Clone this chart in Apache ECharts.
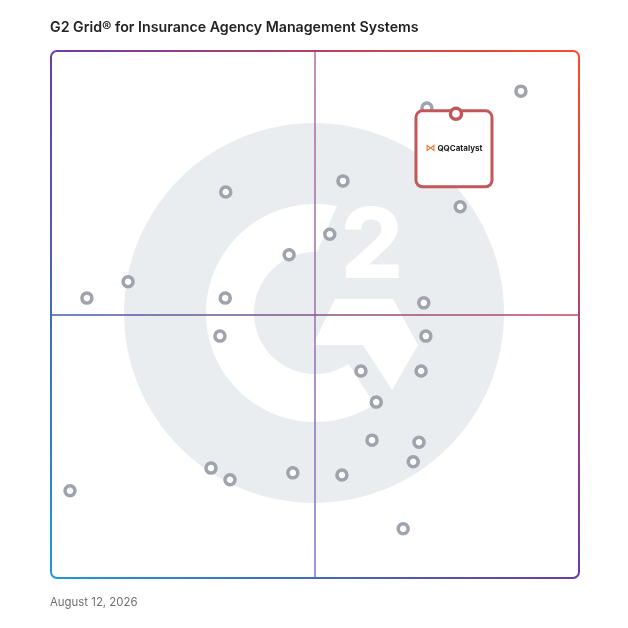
<!DOCTYPE html>
<html>
<head>
<meta charset="utf-8">
<script src="https://cdn.jsdelivr.net/npm/echarts@6/dist/echarts.min.js"></script>
<style>html,body{margin:0;padding:0;background:#fff}#c{width:628px;height:628px}</style>
</head>
<body>
<div id="c"></div>
<script>
const chartTitle = 'G2 Grid® for Insurance Agency Management Systems';
const dateLabel = 'August 12, 2026';
// Satisfaction (x) and Market Presence (y), 0-100 scale
const satisfaction = [33.1,45.1,14.6,6.8,33.0,89.0,71.2,55.3,77.5,52.8,70.6,32.0,30.3,33.9,45.8,3.6,71.0,58.7,70.1,61.6,60.8,69.7,68.6,55.1,66.7];
const marketPresence = [73.3,61.4,56.3,53.2,53.2,92.4,89.2,75.4,70.5,65.3,52.3,46.0,21.0,18.8,20.1,16.7,46.0,39.4,39.4,33.5,26.3,25.9,22.2,19.7,9.5];
const featuredName = ['QQCatalyst'];
const featuredX = [76.7];
const featuredY = [88.1];

const others = satisfaction.map((x, i) => [x, marketPresence[i]]);
const featured = featuredX.map((x, i) => [x, featuredY[i], featuredName[i]]);

const chart = echarts.init(document.getElementById('c'));
const grad = (x, y, x2, y2, stops) => ({type: 'linear', x, y, x2, y2, colorStops: stops.map((c, i) => ({offset: i / (stops.length - 1), color: c}))});

// decorative G2 watermark: G-shaped ring
function arcPts(cx, cy, r, a0, a1, n) {
  const pts = [];
  for (let i = 0; i <= n; i++) {
    const a = (a0 + (a1 - a0) * i / n) * Math.PI / 180;
    pts.push([cx + r * Math.cos(a), cy + r * Math.sin(a)]);
  }
  return pts;
}
const gShape = arcPts(315, 313, 109, -78.4, -303.1, 90).concat(arcPts(315, 313, 61, -303.3, -88.1, 90));

chart.setOption({
  animation: false,
  title: [
    {text: chartTitle, left: 50, top: 21, padding: 0, textStyle: {fontFamily: 'Inter', fontSize: 14.2, fontWeight: 600, color: '#222'}},
    {text: dateLabel, left: 50, top: 597, padding: 0, textStyle: {fontFamily: 'Inter', fontSize: 11.4, fontWeight: 400, color: '#707070'}}
  ],
  grid: {left: 51, top: 51, width: 528, height: 528},
  xAxis: {type: 'value', min: 0, max: 100, show: false},
  yAxis: {type: 'value', min: 0, max: 100, show: false},
  graphic: [
    {type: 'circle', z: -5, silent: true, shape: {cx: 314, cy: 313, r: 190}, style: {fill: '#eaedf0'}},
    {type: 'polygon', z: -4, silent: true, shape: {points: gShape}, style: {fill: '#ffffff'}},
    {type: 'polygon', z: -4, silent: true, shape: {points: [[335,299],[393,299],[418,345],[392,390],[363,345],[313,345]]}, style: {fill: '#ffffff'}},
    {type: 'text', z: -4, silent: true, style: {text: '2', x: 372, y: 249, align: 'center', verticalAlign: 'middle', fill: '#ffffff', font: '800 98px Inter'}},
    {type: 'rect', z: 10, silent: true, shape: {x: 51, y: 51, width: 528, height: 527, r: 6},
      style: {fill: 'none', lineWidth: 2, stroke: grad(0, 1, 1, 0, ['#1e98d8', '#6a3ca2', '#ff4a25'])}}
  ],
  series: [
    {
      type: 'scatter', z: 2, data: others, symbol: 'circle', symbolSize: 10,
      itemStyle: {color: '#ffffff', borderColor: '#9ea3ad', borderWidth: 3.5, opacity: 1},
      silent: true,
      markLine: {
        silent: true, symbol: ['none', 'none'], label: {show: false}, animation: false,
        data: [
          {xAxis: 50, lineStyle: {type: 'solid', width: 1.5, color: grad(0, 0, 0, 1, ['#b5699a', '#7d72c4'])}},
          {yAxis: 50, lineStyle: {type: 'solid', width: 1.5, color: grad(0, 0, 1, 0, ['#3f5db0', '#c4455e'])}}
        ]
      }
    },
    {
      type: 'scatter', z: 4, data: featured, symbolSize: 4, silent: true,
      itemStyle: {color: 'rgba(255,255,255,0)', borderWidth: 0, opacity: 1},
      label: {
        show: true, position: 'inside', align: 'center', verticalAlign: 'top', offset: [-2, -1.5],
        width: 73, padding: [31, 0, 32, 0], lineHeight: 10, opacity: 1,
        textBorderWidth: 0, textShadowBlur: 0,
        backgroundColor: '#ffffff', borderColor: '#c0575a', borderWidth: 3, borderRadius: 5,
        formatter: p => '{l|⋈}{n| ' + p.data[2] + '}',
        rich: {
          l: {fontSize: 10, color: '#f07a2a', fontFamily: 'DejaVu Sans', fontWeight: 'bold', lineHeight: 10, textBorderWidth: 0},
          n: {fontSize: 8, color: '#222', fontWeight: 700, fontFamily: 'Inter', lineHeight: 10, textBorderWidth: 0}
        }
      }
    },
    {
      type: 'scatter', z: 6, data: featured, symbol: 'circle', symbolSize: 11, silent: true,
      itemStyle: {color: '#ffffff', borderColor: '#c0575a', borderWidth: 3.5, opacity: 1}
    }
  ]
});
</script>
</body>
</html>
